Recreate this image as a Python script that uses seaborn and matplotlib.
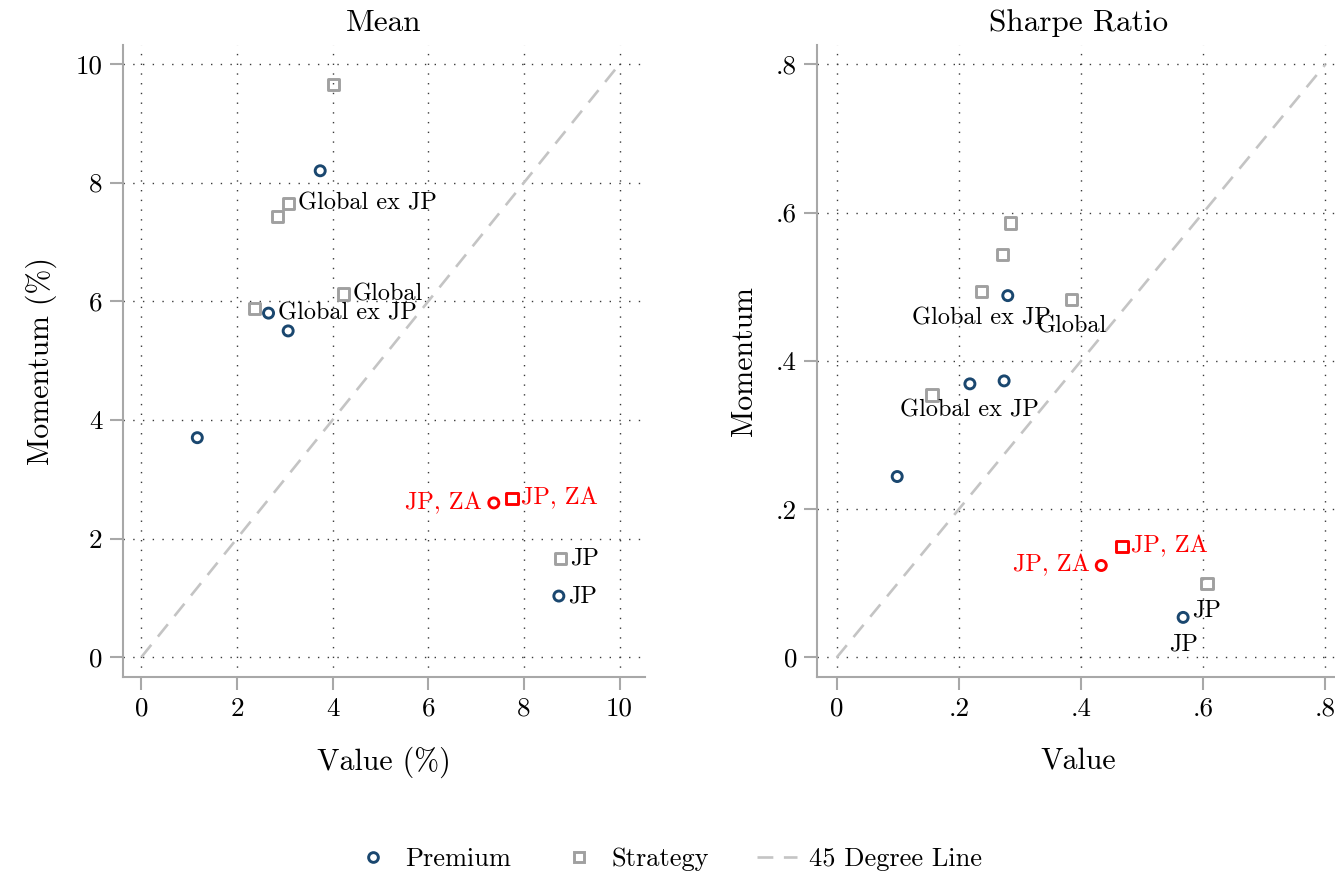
import pandas as pd
import numpy as np
import matplotlib.pyplot as plt
import seaborn as sns
from matplotlib.lines import Line2D

# Mean (%)
mean_prem_x = [3.74, 2.66, 3.07, 1.17, 7.37, 8.73]
mean_prem_y = [8.20, 5.80, 5.50, 3.70, 2.60, 1.03]
mean_prem_lab = ['', 'Global ex JP', '', '', 'JP, ZA', 'JP']
mean_strat_x = [4.02, 3.08, 2.84, 4.22, 2.37, 7.75, 8.77]
mean_strat_y = [9.65, 7.65, 7.43, 6.12, 5.88, 2.68, 1.66]
mean_strat_lab = ['', 'Global ex JP', '', 'Global', '', 'JP, ZA', 'JP']

# Sharpe ratio
sharpe_prem_x = [0.280, 0.218, 0.274, 0.099, 0.433, 0.567]
sharpe_prem_y = [0.488, 0.369, 0.373, 0.244, 0.124, 0.054]
sharpe_prem_lab = ['', 'Global ex JP', '', '', 'JP, ZA', 'JP']
sharpe_strat_x = [0.284, 0.271, 0.237, 0.384, 0.156, 0.467, 0.606]
sharpe_strat_y = [0.586, 0.543, 0.494, 0.483, 0.354, 0.150, 0.100]
sharpe_strat_lab = ['', '', 'Global ex JP', 'Global', '', 'JP, ZA', 'JP']

mean_ticks = [0, 2, 4, 6, 8, 10]
mean_ticklabels = ['0', '2', '4', '6', '8', '10']
sharpe_ticks = [0, 0.2, 0.4, 0.6, 0.8]
sharpe_ticklabels = ['0', '.2', '.4', '.6', '.8']

highlight = 'JP, ZA'

NAVY = '#1a476f'
GREY = '#a0a0a0'
RED = '#ff0000'
LINE = '#c4c4c4'
AXIS = '#a8a8a8'

sns.set_style('white')
plt.rcParams['font.family'] = ['cmr10', 'DejaVu Serif']
plt.rcParams['mathtext.fontset'] = 'cm'
plt.rcParams['axes.unicode_minus'] = False
plt.rcParams['axes.formatter.use_mathtext'] = True
plt.rcParams['text.color'] = 'black'
plt.rcParams['axes.labelcolor'] = 'black'


def make_df(px, py, plab, sx, sy, slab):
    a = pd.DataFrame({'x': px, 'y': py, 'label': plab, 'series': 'Premium'})
    b = pd.DataFrame({'x': sx, 'y': sy, 'label': slab, 'series': 'Strategy'})
    return pd.concat([a, b], ignore_index=True)


def draw_panel(ax, df, ticks, ticklabels, xlim, ylim, title, xlabel, ylabel, default_pos):
    ax.plot([ticks[0], ticks[-1]], [ticks[0], ticks[-1]], color=LINE, lw=1.9,
            dashes=(6, 4), zorder=1)
    for series, marker, color, size in [('Premium', 'o', NAVY, 52), ('Strategy', 's', GREY, 66)]:
        sub = df[df['series'] == series]
        cols = [RED if l == highlight else color for l in sub['label']]
        sns.scatterplot(data=sub, x='x', y='y', ax=ax, marker=marker, s=size,
                        facecolor='none', edgecolor=cols, linewidth=2.1, zorder=3)
    for _, r in df.iterrows():
        if not r['label']:
            continue
        pos = default_pos
        if r['label'] == highlight:
            pos = 'l' if r['series'] == 'Premium' else 'r'
        off, ha, va = {'r': ((6.5, 0), 'left', 'center'),
                       'l': ((-8.5, 0), 'right', 'center'),
                       'b': ((0, -19.5), 'center', 'center')}[pos]
        ax.annotate(r['label'], (r['x'], r['y']), xytext=off, textcoords='offset points',
                    ha=ha, va=va, fontsize=17.5,
                    color=RED if r['label'] == highlight else 'black')
    ax.set_xlim(xlim)
    ax.set_ylim(ylim)
    ax.set_xticks(ticks)
    ax.set_xticklabels(ticklabels)
    ax.set_yticks(ticks)
    ax.set_yticklabels(ticklabels)
    ax.grid(True, color='#3a3a3a', linestyle=(0, (1, 6)), linewidth=1.0)
    for s in ['top', 'right']:
        ax.spines[s].set_visible(False)
    for s in ['left', 'bottom']:
        ax.spines[s].set_color(AXIS)
        ax.spines[s].set_linewidth(1.5)
    ax.tick_params(axis='both', which='major', direction='out', length=9.5, width=1.5,
                   color=AXIS, labelcolor='black', labelsize=19.5, pad=5,
                   bottom=True, left=True)
    ax.set_title(title, fontsize=22.5, pad=10)
    ax.set_xlabel(xlabel, fontsize=21.5, labelpad=19)
    ax.set_ylabel(ylabel, fontsize=21.5, labelpad=13)


fig = plt.figure(figsize=(13.35, 8.76), dpi=100)
ax1 = fig.add_axes([0.0919, 0.2275, 0.3912, 0.7211])
ax2 = fig.add_axes([0.6122, 0.2275, 0.3912, 0.7211])

mean_df = make_df(mean_prem_x, mean_prem_y, mean_prem_lab, mean_strat_x, mean_strat_y, mean_strat_lab)
sharpe_df = make_df(sharpe_prem_x, sharpe_prem_y, sharpe_prem_lab, sharpe_strat_x, sharpe_strat_y, sharpe_strat_lab)

draw_panel(ax1, mean_df, mean_ticks, mean_ticklabels, (-0.39, 10.53), (-0.33, 10.32),
           'Mean', 'Value (%)', 'Momentum (%)', 'r')
draw_panel(ax2, sharpe_df, sharpe_ticks, sharpe_ticklabels, (-0.0318, 0.823), (-0.026, 0.826),
           'Sharpe Ratio', 'Value', 'Momentum', 'b')

handles = [
    Line2D([], [], marker='o', ls='none', mfc='none', mec=NAVY, mew=2.1, ms=7),
    Line2D([], [], marker='s', ls='none', mfc='none', mec=GREY, mew=2.1, ms=7.5),
    Line2D([], [], color=LINE, lw=1.9, dashes=(6, 4)),
]
fig.legend(handles, ['Premium', 'Strategy', '45 Degree Line'], loc='center',
           bbox_to_anchor=(0.5, 0.019), ncol=3, frameon=False, fontsize=19,
           columnspacing=1.8, handlelength=1.55, handletextpad=0.45)

fig.savefig('out.png', dpi=100)
